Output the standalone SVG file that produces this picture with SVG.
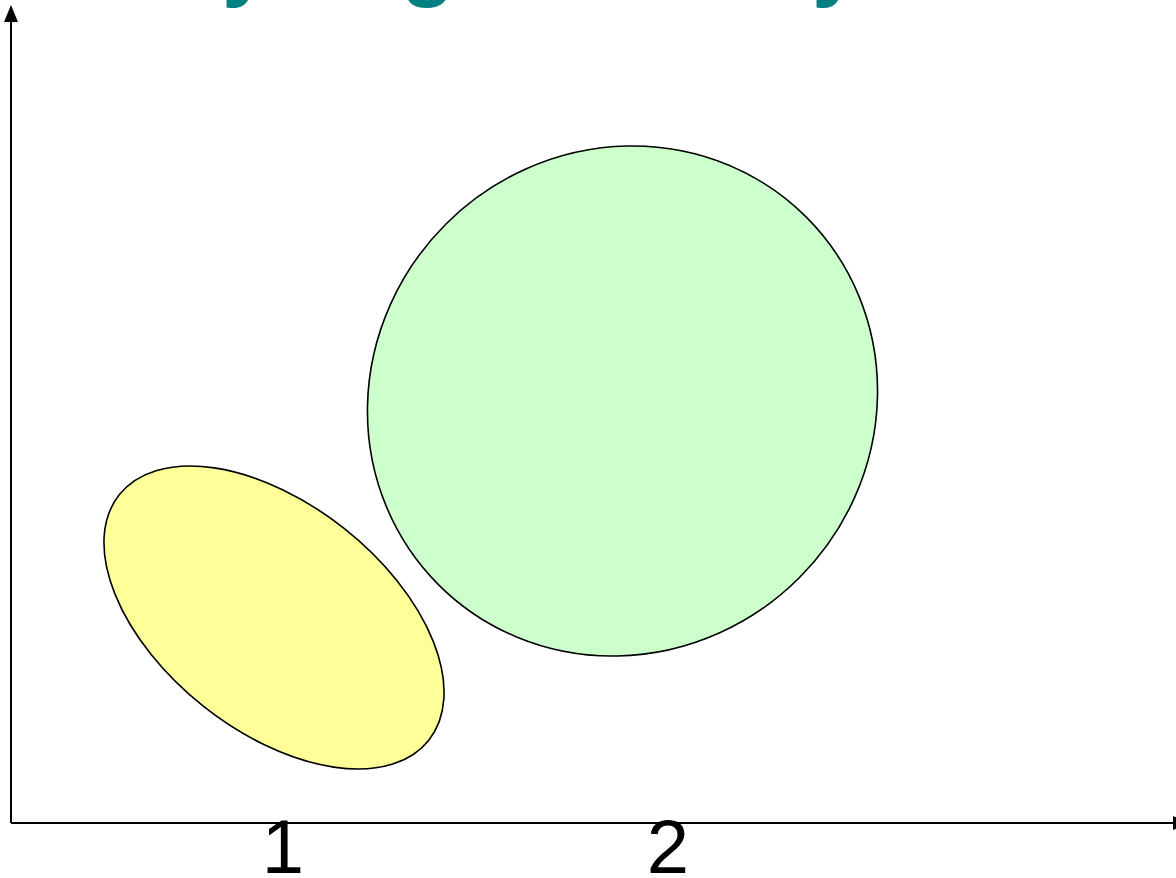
<svg xmlns="http://www.w3.org/2000/svg" width="1176" height="878" viewBox="0 0 1176 878">
<style>
.shape{stroke:#000;stroke-width:1.6}
.axis{stroke:#000;stroke-width:2;fill:none}
.lbl{font-family:"Liberation Sans",Arial,sans-serif;font-size:76px;fill:#000;text-anchor:middle}
.title{font-family:"Liberation Sans",Arial,sans-serif;font-weight:bold;font-size:88px;fill:#008080}
</style>
<rect width="1176" height="878" fill="#fff"/>
<text class="title" y="-10"><tspan x="222">y</tspan><tspan x="401">g</tspan><tspan x="812">y</tspan></text>
<g id="axes">
<line class="axis" x1="11" y1="823" x2="11" y2="12"/>
<path d="M4,22 L11,5 L18,22 z" fill="#000"/>
<line class="axis" x1="11" y1="823" x2="1180" y2="823"/>
<path d="M1173,816 L1190,823 L1173,830 z" fill="#000"/>
</g>
<g id="cluster2">
<ellipse class="shape" cx="622.5" cy="401" rx="260" ry="250" transform="rotate(-45 622.5 401)" fill="#CCFFCC"/>
</g>
<g id="cluster1">
<ellipse class="shape" cx="274" cy="617.5" rx="197.5" ry="113.4" transform="rotate(38.4 274 617.5)" fill="#FFFF99"/>
</g>
<g id="labels">
<text class="lbl" x="283" y="873">1</text>
<text class="lbl" x="668" y="873">2</text>
</g>
</svg>
